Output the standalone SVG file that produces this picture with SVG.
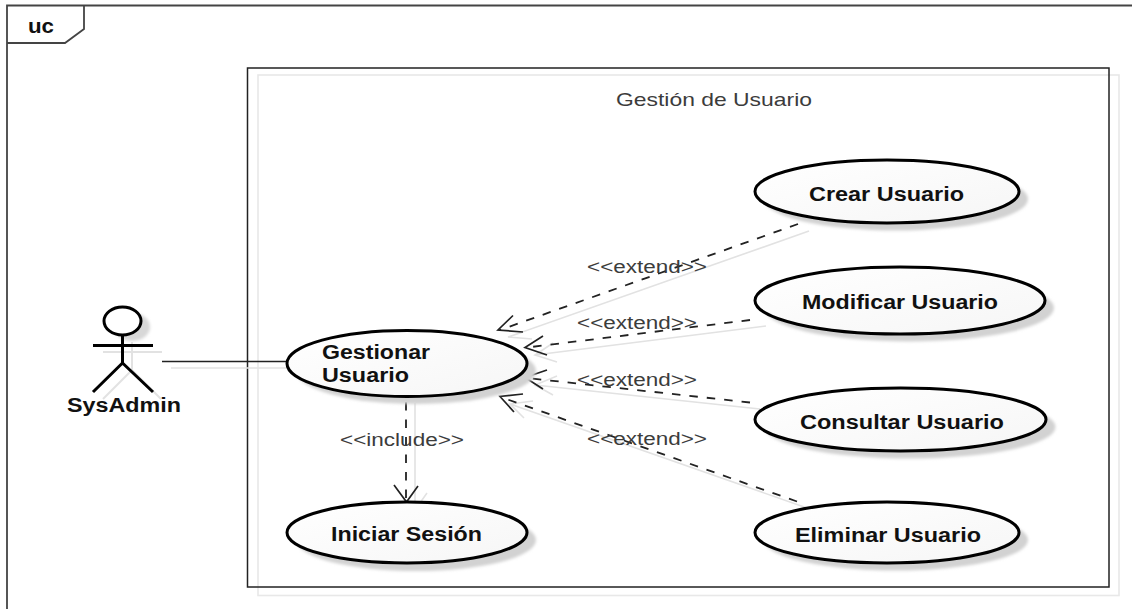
<svg xmlns="http://www.w3.org/2000/svg" width="1132" height="609" viewBox="0 0 1132 609">
<style>
text{font-family:"Liberation Sans",Arial,sans-serif}
.n{font-size:20px;font-weight:bold;fill:#111}
.l{font-size:18px;fill:#3c3c3c}
.frame{fill:none;stroke:#444;stroke-width:1.8}
.box{fill:none;stroke:#222;stroke-width:1.5}
.boxs{fill:none;stroke:#e8e8e8;stroke-width:1.6}
.uc{fill:url(#g);stroke:#000;stroke-width:3}
.ucs{fill:#d2d2d2;filter:url(#b)}
.d{fill:none;stroke:#222;stroke-width:1.8;stroke-dasharray:8.500 9}
.a{fill:none;stroke:#222;stroke-width:1.7}
.s{fill:none;stroke:#e2e2e2;stroke-width:1.6}
.act{fill:none;stroke:#000;stroke-width:3}
.acts{fill:none;stroke:#e2e2e2;stroke-width:2}
</style>
<defs>
<linearGradient id="g" x1="0" y1="0" x2="1" y2="1"><stop offset="0" stop-color="#ffffff"/><stop offset="1" stop-color="#f6f6f6"/></linearGradient>
<filter id="b" x="-10%" y="-20%" width="120%" height="140%"><feGaussianBlur stdDeviation="1.800"/></filter>
</defs>
<rect width="1132" height="609" fill="#fff"/>
<g id="frame">
<path class="frame" d="M7 609V5.500H1132"/>
<path class="frame" d="M7 43H65L84 29V5.500"/>
<text x="28" y="33" class="n" textLength="26" lengthAdjust="spacingAndGlyphs">uc</text>
</g>
<g id="system">
<rect class="boxs" x="258" y="75" width="861" height="520.500"/>
<rect class="box" x="247.500" y="68" width="861.500" height="519"/>
<text x="616" y="106" class="l" font-size="19" style="font-size:19px" textLength="196" lengthAdjust="spacingAndGlyphs">Gestión de Usuario</text>
</g>
<g id="connectors">
<path class="s" d="M171 368H290M809 231L508 337M523 332L508 337L532 339M766 326 535 355M553 343 535 355 557 362"/>
<path class="s" d="M760 409 535 385M557 376 535 385 553 395M807 508 510 404M533 401 510 404 524 418M415 403V510M403 497 415 510 427 493"/>
<path class="a" d="M162 361.500H287"/>
<path class="d" d="M798 224 500 330"/>
<path class="a" d="M513 315.500 498 330 523 332"/>
<path class="d" d="M750 320 527 347.500"/>
<path class="a" d="M543 336 525 347.500 547 355"/>
<path class="d" d="M750 402.500 527 378"/>
<path class="a" d="M547 370 525 377.500 543 389"/>
<path class="d" d="M797 501.500 502 397.500"/>
<path class="a" d="M523 394 500 396.500 514 412"/>
<path class="d" d="M406 402V501"/>
<path class="a" d="M394 485 406.500 502 418 486"/>
<text x="587" y="273" class="l" textLength="120" lengthAdjust="spacingAndGlyphs">&lt;&lt;extend&gt;&gt;</text>
<text x="577" y="329" class="l" textLength="120" lengthAdjust="spacingAndGlyphs">&lt;&lt;extend&gt;&gt;</text>
<text x="577" y="386" class="l" textLength="120" lengthAdjust="spacingAndGlyphs">&lt;&lt;extend&gt;&gt;</text>
<text x="587" y="445" class="l" textLength="120" lengthAdjust="spacingAndGlyphs">&lt;&lt;extend&gt;&gt;</text>
<text x="340" y="446" class="l" textLength="124" lengthAdjust="spacingAndGlyphs">&lt;&lt;include&gt;&gt;</text>
</g>
<g id="actor-sysadmin">
<ellipse cx="132" cy="327" rx="18" ry="14" fill="#d8d8d8" filter="url(#b)"/>
<path class="acts" d="M103 352H162M132 342V370M132 370 103 399M132 370 161 399"/>
<ellipse cx="122.500" cy="321" rx="18.500" ry="14" fill="#fff" stroke="#000" stroke-width="3"/>
<path class="act" d="M122.500 335V363M93 345.500H153M122.500 363 93 392M122.500 363 153 392"/>
<text x="67" y="412" class="n" textLength="114" lengthAdjust="spacingAndGlyphs">SysAdmin</text>
</g>
<g id="uc-gestionar">
<ellipse class="ucs" cx="416" cy="371" rx="120" ry="33"/>
<ellipse class="uc" cx="407" cy="363.500" rx="120" ry="33"/>
<text x="322" y="359" class="n" textLength="108" lengthAdjust="spacingAndGlyphs">Gestionar</text>
<text x="322" y="382" class="n" textLength="87" lengthAdjust="spacingAndGlyphs">Usuario</text>
</g>
<g id="uc-iniciar">
<ellipse class="ucs" cx="416" cy="540" rx="120" ry="31"/>
<ellipse class="uc" cx="407" cy="532.500" rx="120" ry="30.500"/>
<text x="331" y="541" class="n" textLength="151" lengthAdjust="spacingAndGlyphs">Iniciar Sesión</text>
</g>
<g id="uc-crear">
<ellipse class="ucs" cx="896" cy="199" rx="132" ry="31.500"/>
<ellipse class="uc" cx="887" cy="191.500" rx="132" ry="31.500"/>
<text x="809" y="201" class="n" textLength="155" lengthAdjust="spacingAndGlyphs">Crear Usuario</text>
</g>
<g id="uc-modificar">
<ellipse class="ucs" cx="909" cy="308" rx="145" ry="33.500"/>
<ellipse class="uc" cx="900" cy="300.500" rx="145" ry="33.500"/>
<text x="802" y="309" class="n" textLength="196" lengthAdjust="spacingAndGlyphs">Modificar Usuario</text>
</g>
<g id="uc-consultar">
<ellipse class="ucs" cx="910" cy="427" rx="145.500" ry="31.500"/>
<ellipse class="uc" cx="900.500" cy="419.500" rx="145.500" ry="31.500"/>
<text x="800" y="429" class="n" textLength="204" lengthAdjust="spacingAndGlyphs">Consultar Usuario</text>
</g>
<g id="uc-eliminar">
<ellipse class="ucs" cx="896" cy="540" rx="132" ry="30.500"/>
<ellipse class="uc" cx="887" cy="532.500" rx="132" ry="30.500"/>
<text x="795" y="542" class="n" textLength="186" lengthAdjust="spacingAndGlyphs">Eliminar Usuario</text>
</g>
</svg>
